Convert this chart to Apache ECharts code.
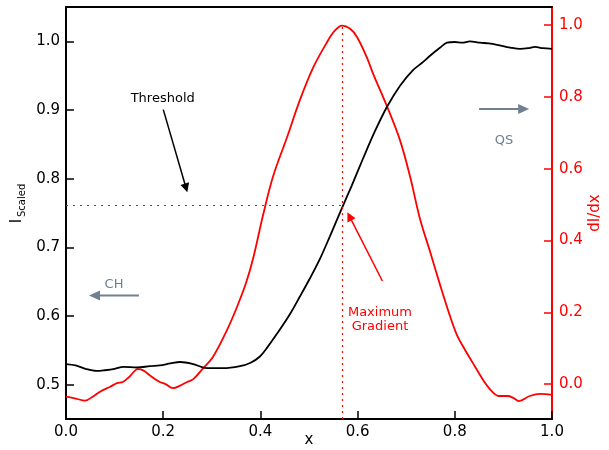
<!DOCTYPE html>
<html>
<head>
<meta charset="utf-8">
<script src="https://cdn.jsdelivr.net/npm/echarts@6/dist/echarts.min.js"></script>
<style>html,body{margin:0;padding:0;background:#fff;}#c{width:609px;height:450px;}</style>
</head>
<body>
<div id="c"></div>
<script>
// Scaled intensity (left axis)
const intensityX = [0.000,0.020,0.040,0.063,0.080,0.100,0.118,0.146,0.173,0.193,0.215,0.235,0.262,0.290,0.323,0.358,0.380,0.399,0.415,0.434,0.461,0.481,0.502,0.523,0.543,0.564,0.588,0.611,0.635,0.660,0.687,0.714,0.735,0.749,0.770,0.784,0.800,0.815,0.831,0.852,0.870,0.887,0.914,0.934,0.951,0.965,0.981,1.000];
const intensityY = [0.530,0.528,0.523,0.520,0.521,0.523,0.526,0.525,0.527,0.528,0.531,0.533,0.530,0.524,0.524,0.527,0.532,0.541,0.555,0.574,0.603,0.628,0.655,0.684,0.716,0.751,0.790,0.829,0.868,0.904,0.935,0.958,0.970,0.979,0.991,0.998,0.999,0.998,1.000,0.998,0.997,0.995,0.991,0.989,0.990,0.992,0.990,0.989];
// Gradient dI/dx (right axis)
const gradientX = [0.000,0.020,0.039,0.055,0.070,0.090,0.105,0.117,0.130,0.148,0.158,0.175,0.193,0.205,0.220,0.235,0.249,0.262,0.282,0.302,0.331,0.351,0.370,0.385,0.405,0.426,0.455,0.481,0.508,0.537,0.553,0.568,0.584,0.599,0.619,0.632,0.660,0.687,0.708,0.728,0.750,0.770,0.790,0.805,0.820,0.842,0.860,0.875,0.891,0.909,0.920,0.932,0.954,0.976,1.000];
const gradientY = [-0.035,-0.040,-0.046,-0.035,-0.021,-0.008,0.003,0.006,0.020,0.042,0.039,0.022,0.006,0.000,-0.011,-0.004,0.006,0.014,0.044,0.075,0.150,0.212,0.280,0.350,0.468,0.578,0.688,0.790,0.880,0.952,0.984,0.998,0.990,0.966,0.910,0.864,0.775,0.680,0.578,0.462,0.365,0.275,0.190,0.135,0.098,0.048,0.008,-0.018,-0.033,-0.033,-0.038,-0.047,-0.033,-0.027,-0.030];
const xTicks = [0, 0.2, 0.4, 0.6, 0.8, 1.0];
const leftTicks = [0.5, 0.6, 0.7, 0.8, 0.9, 1.0];
const rightTicks = [0.0, 0.2, 0.4, 0.6, 0.8, 1.0];
const thresholdValue = 0.761;
const maxGradX = 0.568;
const maxGradValue = 0.998;

const FONT = 'DejaVu Sans';
const chart = echarts.init(document.getElementById('c'), null, {renderer: 'canvas'});
const fmt = v => Number(v).toFixed(1);
const redDot = {color: '#ff0000', type: [2, 4], width: 1.2};
const grayDot = {color: '#555555', type: [2, 5], width: 1.2};

chart.setOption({
  animation: false,
  backgroundColor: '#fff',
  grid: {left: 66, right: 57, top: 7, bottom: 31, containLabel: false, outerBoundsMode: 'none'},
  xAxis: [{
    type: 'value', min: 0, max: 1, position: 'bottom',
    name: 'x', nameLocation: 'middle', nameGap: 14, nameMoveOverlap: false,
    nameTextStyle: {fontFamily: FONT, fontSize: 15, color: '#000'},
    axisLine: {show: true, onZero: false, lineStyle: {color: '#000', width: 2}},
    axisTick: {show: true, inside: true, length: 8, lineStyle: {color: '#000', width: 1.5}, customValues: xTicks},
    axisLabel: {fontFamily: FONT, fontSize: 15, color: '#000', margin: 6, formatter: fmt, customValues: xTicks},
    splitLine: {show: false}
  }, {
    type: 'value', min: 0, max: 1, position: 'top',
    axisLine: {show: true, onZero: false, lineStyle: {color: '#000', width: 2}},
    axisTick: {show: false}, axisLabel: {show: false}, splitLine: {show: false}
  }],
  yAxis: [{
    type: 'value', min: 0.45, max: 1.05, position: 'left',
    axisLine: {show: true, onZero: false, lineStyle: {color: '#000', width: 2}},
    axisTick: {show: true, inside: true, length: 8, lineStyle: {color: '#000', width: 1.5}, customValues: leftTicks},
    axisLabel: {fontFamily: FONT, fontSize: 15, color: '#000', margin: 6, formatter: fmt, customValues: leftTicks},
    splitLine: {show: false}
  }, {
    type: 'value', min: -0.097, max: 1.05, position: 'right',
    name: 'dI/dx', nameLocation: 'middle', nameGap: 36, nameRotate: 90, nameMoveOverlap: false,
    nameTextStyle: {fontFamily: FONT, fontSize: 15, color: '#ff0000'},
    axisLine: {show: true, onZero: false, lineStyle: {color: '#ff0000', width: 2}},
    axisTick: {show: true, inside: true, length: 8, lineStyle: {color: '#ff0000', width: 1.5}, customValues: rightTicks},
    axisLabel: {fontFamily: FONT, fontSize: 15, color: '#ff0000', margin: 7, formatter: fmt, customValues: rightTicks},
    splitLine: {show: false}
  }],
  series: [{
    type: 'line', name: 'I', xAxisIndex: 0, yAxisIndex: 0,
    data: intensityX.map((x, i) => [x, intensityY[i]]),
    smooth: 0.35, showSymbol: false, symbol: 'none',
    lineStyle: {color: '#000', width: 1.8}, z: 3,
    markLine: {
      silent: true, symbol: ['none', 'none'], label: {show: false},
      lineStyle: grayDot,
      data: [[{coord: [0, thresholdValue], lineStyle: grayDot}, {coord: [maxGradX, thresholdValue]}]]
    }
  }, {
    type: 'line', name: 'dI/dx', xAxisIndex: 0, yAxisIndex: 1,
    data: gradientX.map((x, i) => [x, gradientY[i]]),
    smooth: 0.35, showSymbol: false, symbol: 'none',
    lineStyle: {color: '#ff0000', width: 1.8}, z: 2,
    markLine: {
      silent: true, symbol: ['none', 'none'], label: {show: false},
      lineStyle: redDot,
      data: [[{coord: [maxGradX, -0.097], lineStyle: redDot}, {coord: [maxGradX, maxGradValue]}]]
    }
  }]
});

// Annotations, positioned in data coordinates (left axis)
const P = (x, y) => chart.convertToPixel({xAxisIndex: 0, yAxisIndex: 0}, [x, y]);
function arrow(a, b, color, lw, hl, hw) {
  const p0 = P(a[0], a[1]), p1 = P(b[0], b[1]);
  const dx = p1[0] - p0[0], dy = p1[1] - p0[1];
  const L = Math.hypot(dx, dy), ux = dx / L, uy = dy / L;
  const bx = p1[0] - ux * hl, by = p1[1] - uy * hl;
  return [
    {type: 'line', shape: {x1: p0[0], y1: p0[1], x2: bx + ux, y2: by + uy}, style: {stroke: color, lineWidth: lw}, z: 10},
    {type: 'polygon', shape: {points: [[p1[0], p1[1]], [bx - uy * hw / 2, by + ux * hw / 2], [bx + uy * hw / 2, by - ux * hw / 2]]}, style: {fill: color}, z: 10}
  ];
}
function txt(x, y, s, color) {
  const p = P(x, y);
  return {type: 'text', x: p[0], y: p[1], style: {text: s, fill: color, font: '13px "DejaVu Sans"', align: 'center', verticalAlign: 'middle', lineHeight: 14}, z: 10};
}
const SLATE = '#708090';
const g = [];
g.push(txt(0.199, 0.9164, 'Threshold', '#000'));
g.push(...arrow([0.2002, 0.9005], [0.2496, 0.7802], '#000', 1.5, 9, 9));
g.push(txt(0.0988, 0.646, 'CH', SLATE));
g.push(...arrow([0.150, 0.630], [0.0473, 0.630], SLATE, 2, 11, 10));
g.push(txt(0.901, 0.855, 'QS', SLATE));
g.push(...arrow([0.850, 0.9015], [0.953, 0.9015], SLATE, 2, 11, 10));
g.push(txt(0.646, 0.594, 'Maximum\nGradient', '#ff0000'));
g.push(...arrow([0.651, 0.651], [0.579, 0.751], '#ff0000', 1.5, 9, 9));
// Left axis name I_Scaled, rotated
g.push({
  type: 'group', x: 17, y: 213, rotation: Math.PI / 2,
  children: [
    {type: 'text', x: -8, y: 0, style: {text: 'I', fill: '#000', font: '15px "DejaVu Sans"', align: 'center', verticalAlign: 'middle'}},
    {type: 'text', x: -4, y: 5, style: {text: 'Scaled', fill: '#000', font: '10px "DejaVu Sans"', align: 'left', verticalAlign: 'middle'}}
  ]
});
chart.setOption({graphic: g});
</script>
</body>
</html>
